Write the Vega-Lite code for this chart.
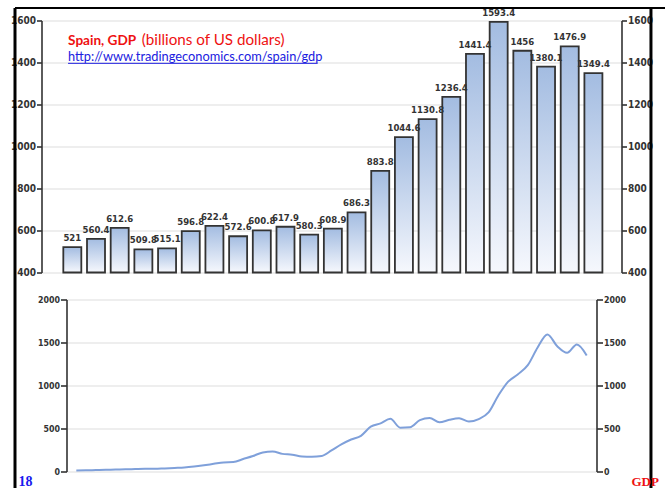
{
  "$schema": "https://vega.github.io/schema/vega-lite/v6.json",
  "background": "white",
  "padding": {"left": 9.5, "top": 6.5, "right": 0, "bottom": 0},
  "spacing": 27,
  "bounds": "flush",
  "center": true,
  "config": {
    "view": {"stroke": null},
    "axis": {
      "labelFont": "DejaVu Sans Condensed, DejaVu Sans Mono",
      "labelFontWeight": "bold",
      "labelColor": "#333333",
      "domainColor": "#333333",
      "domainWidth": 1.6,
      "tickColor": "#333333",
      "tickWidth": 1.6,
      "tickSize": 5,
      "gridColor": "#e8e8e8",
      "gridWidth": 1.5,
      "title": null
    }
  },
  "datasets": {
    "bars": [
      {"year": 1991, "gdp": 521},
      {"year": 1992, "gdp": 560.4},
      {"year": 1993, "gdp": 612.6},
      {"year": 1994, "gdp": 509.8},
      {"year": 1995, "gdp": 515.1},
      {"year": 1996, "gdp": 596.8},
      {"year": 1997, "gdp": 622.4},
      {"year": 1998, "gdp": 572.6},
      {"year": 1999, "gdp": 600.8},
      {"year": 2000, "gdp": 617.9},
      {"year": 2001, "gdp": 580.3},
      {"year": 2002, "gdp": 608.9},
      {"year": 2003, "gdp": 686.3},
      {"year": 2004, "gdp": 883.8},
      {"year": 2005, "gdp": 1044.6},
      {"year": 2006, "gdp": 1130.8},
      {"year": 2007, "gdp": 1236.4},
      {"year": 2008, "gdp": 1441.4},
      {"year": 2009, "gdp": 1593.4},
      {"year": 2010, "gdp": 1456},
      {"year": 2011, "gdp": 1380.1},
      {"year": 2012, "gdp": 1476.9},
      {"year": 2013, "gdp": 1349.4}
    ],
    "line": [
      {"year": 1961, "gdp": 12},
      {"year": 1962, "gdp": 14},
      {"year": 1963, "gdp": 16},
      {"year": 1964, "gdp": 19},
      {"year": 1965, "gdp": 22},
      {"year": 1966, "gdp": 25},
      {"year": 1967, "gdp": 29},
      {"year": 1968, "gdp": 32},
      {"year": 1969, "gdp": 31},
      {"year": 1970, "gdp": 36},
      {"year": 1971, "gdp": 41},
      {"year": 1972, "gdp": 46},
      {"year": 1973, "gdp": 57},
      {"year": 1974, "gdp": 72},
      {"year": 1975, "gdp": 89},
      {"year": 1976, "gdp": 106},
      {"year": 1977, "gdp": 110},
      {"year": 1978, "gdp": 145},
      {"year": 1979, "gdp": 180},
      {"year": 1980, "gdp": 222},
      {"year": 1981, "gdp": 232},
      {"year": 1982, "gdp": 205},
      {"year": 1983, "gdp": 196},
      {"year": 1984, "gdp": 174},
      {"year": 1985, "gdp": 172},
      {"year": 1986, "gdp": 180},
      {"year": 1987, "gdp": 245},
      {"year": 1988, "gdp": 315},
      {"year": 1989, "gdp": 372},
      {"year": 1990, "gdp": 415},
      {"year": 1991, "gdp": 521},
      {"year": 1992, "gdp": 560.4},
      {"year": 1993, "gdp": 612.6},
      {"year": 1994, "gdp": 509.8},
      {"year": 1995, "gdp": 515.1},
      {"year": 1996, "gdp": 596.8},
      {"year": 1997, "gdp": 622.4},
      {"year": 1998, "gdp": 572.6},
      {"year": 1999, "gdp": 600.8},
      {"year": 2000, "gdp": 617.9},
      {"year": 2001, "gdp": 580.3},
      {"year": 2002, "gdp": 608.9},
      {"year": 2003, "gdp": 686.3},
      {"year": 2004, "gdp": 883.8},
      {"year": 2005, "gdp": 1044.6},
      {"year": 2006, "gdp": 1130.8},
      {"year": 2007, "gdp": 1236.4},
      {"year": 2008, "gdp": 1441.4},
      {"year": 2009, "gdp": 1593.4},
      {"year": 2010, "gdp": 1456},
      {"year": 2011, "gdp": 1380.1},
      {"year": 2012, "gdp": 1476.9},
      {"year": 2013, "gdp": 1349.4}
    ]
  },
  "vconcat": [
    {
      "width": 580,
      "height": 252,
      "resolve": {"axis": {"y": "independent"}},
      "layer": [
        {
          "data": {"name": "bars"},
          "mark": {
            "type": "bar",
            "size": 18,
            "stroke": "#333333",
            "strokeWidth": 1.8,
            "fill": {
              "gradient": "linear",
              "x1": 0, "y1": 0, "x2": 0, "y2": 1,
              "stops": [
                {"offset": 0, "color": "#a3bce1"},
                {"offset": 1, "color": "#f6f8fd"}
              ]
            }
          },
          "encoding": {
            "x": {
              "field": "year", "type": "quantitative",
              "scale": {"domain": [1989.91, 2013.975], "nice": false, "zero": false},
              "axis": {"values": [1992, 1996, 2000, 2004, 2008, 2012], "format": "d", "grid": true, "labelFontSize": 10, "tickSize": 4, "labelPadding": 2}
            },
            "y": {
              "field": "gdp", "type": "quantitative",
              "scale": {"domain": [400, 1600], "nice": false, "zero": false},
              "axis": {"orient": "left", "values": [400, 600, 800, 1000, 1200, 1400, 1600], "format": "d", "grid": true, "labelFontSize": 10, "labelPadding": 1}
            },
            "y2": {"datum": 400}
          }
        },
        {
          "data": {"name": "bars"},
          "mark": {"type": "text", "font": "DejaVu Sans Condensed, DejaVu Sans Mono", "fontWeight": "bold", "fontSize": 9.5, "color": "#333333", "dy": -6, "baseline": "alphabetic"},
          "encoding": {
            "x": {"field": "year", "type": "quantitative"},
            "y": {
              "field": "gdp", "type": "quantitative",
              "axis": {"orient": "right", "values": [400, 600, 800, 1000, 1200, 1400, 1600], "format": "d", "grid": false, "labelFontSize": 10, "labelPadding": 1}
            },
            "text": {"field": "gdp", "type": "nominal"}
          }
        },
        {
          "data": {"values": [{}]},
          "mark": {"type": "text", "text": "Spain, GDP", "font": "Lato", "fontWeight": "bold", "fontSize": 13.6, "color": "#ee1111", "align": "left", "baseline": "alphabetic"},
          "encoding": {
            "x": {"datum": 1990.82, "type": "quantitative", "axis": null},
            "y": {"datum": 1481, "type": "quantitative", "axis": null}
          }
        },
        {
          "data": {"values": [{}]},
          "mark": {"type": "text", "text": "(billions of US dollars)", "font": "Lato", "fontSize": 15.2, "color": "#ee1111", "align": "left", "baseline": "alphabetic"},
          "encoding": {
            "x": {"datum": 1993.93, "type": "quantitative", "axis": null},
            "y": {"datum": 1481, "type": "quantitative", "axis": null}
          }
        },
        {
          "data": {"values": [{}]},
          "mark": {"type": "text", "text": "http://www.tradingeconomics.com/spain/gdp", "font": "Lato", "fontSize": 12.8, "color": "#2020e0", "align": "left", "baseline": "alphabetic"},
          "encoding": {
            "x": {"datum": 1990.82, "type": "quantitative", "axis": null},
            "y": {"datum": 1405, "type": "quantitative", "axis": null}
          }
        },
        {
          "data": {"values": [{}]},
          "mark": {"type": "rule", "color": "#2020e0", "strokeWidth": 1},
          "encoding": {
            "x": {"datum": 1990.82, "type": "quantitative", "axis": null},
            "x2": {"datum": 2001.36},
            "y": {"datum": 1396, "type": "quantitative", "axis": null}
          }
        },
        {
          "data": {"values": [{}]},
          "mark": {"type": "rule", "color": "#000000", "strokeWidth": 2},
          "encoding": {
            "x": {"datum": 1988.58, "type": "quantitative", "axis": null},
            "x2": {"datum": 2016.6},
            "y": {"datum": 1659.5, "type": "quantitative", "axis": null}
          }
        },
        {
          "data": {"values": [{}]},
          "mark": {"type": "rule", "color": "#000000", "strokeWidth": 3},
          "encoding": {
            "x": {"datum": 1988.58, "type": "quantitative", "axis": null},
            "y": {"datum": 1659.5, "type": "quantitative", "axis": null},
            "y2": {"datum": -660}
          }
        },
        {
          "data": {"values": [{}]},
          "mark": {"type": "rule", "color": "#000000", "strokeWidth": 3},
          "encoding": {
            "x": {"datum": 2015.43, "type": "quantitative", "axis": null},
            "y": {"datum": 1659.5, "type": "quantitative", "axis": null},
            "y2": {"datum": -660}
          }
        }
      ]
    },
    {
      "width": 530,
      "height": 172,
      "resolve": {"axis": {"y": "independent"}},
      "layer": [
        {
          "data": {"name": "line"},
          "mark": {"type": "line", "interpolate": "monotone", "color": "#7fa0da", "strokeWidth": 2},
          "encoding": {
            "x": {
              "field": "year", "type": "quantitative",
              "scale": {"domain": [1960, 2014], "nice": false, "zero": false},
              "axis": {"values": [1960, 1970, 1980, 1990, 2000, 2010], "format": "d", "grid": true, "labelFontSize": 8.8, "tickSize": 4, "labelPadding": 2}
            },
            "y": {
              "field": "gdp", "type": "quantitative",
              "scale": {"domain": [0, 2000], "nice": false},
              "axis": {"orient": "left", "values": [0, 500, 1000, 1500, 2000], "format": "d", "grid": true, "labelFontSize": 8.8, "tickSize": 6, "labelPadding": 1}
            }
          }
        },
        {
          "data": {"name": "line"},
          "mark": {"type": "point", "opacity": 0},
          "encoding": {
            "x": {"field": "year", "type": "quantitative"},
            "y": {
              "field": "gdp", "type": "quantitative",
              "axis": {"orient": "right", "values": [0, 500, 1000, 1500, 2000], "format": "d", "grid": false, "labelFontSize": 8.8, "tickSize": 6, "labelPadding": 1}
            }
          }
        },
        {
          "data": {"values": [{}]},
          "mark": {"type": "text", "text": "18", "font": "Liberation Serif", "fontWeight": "bold", "fontSize": 14, "color": "#1a1aee", "align": "left", "baseline": "alphabetic"},
          "encoding": {
            "x": {"datum": 1955.1, "type": "quantitative", "axis": null},
            "y": {"datum": -174, "type": "quantitative", "axis": null}
          }
        },
        {
          "data": {"values": [{}]},
          "mark": {"type": "text", "text": "GDP", "font": "Liberation Serif", "fontWeight": "bold", "fontSize": 13, "color": "#ee1111", "align": "left", "baseline": "alphabetic"},
          "encoding": {
            "x": {"datum": 2017.56, "type": "quantitative", "axis": null},
            "y": {"datum": -174, "type": "quantitative", "axis": null}
          }
        }
      ]
    }
  ]
}
